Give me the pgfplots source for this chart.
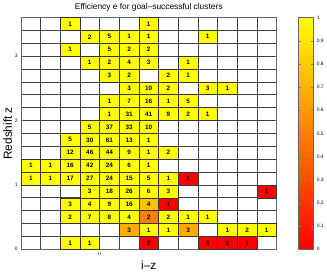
\documentclass[border=0pt]{standalone}
\usepackage{pgfplots}
\pgfplotsset{compat=1.18}
\usepackage{pgfplotstable}
\usepackage{fontspec}
\setmainfont{Liberation Sans}
\pgfdeclareplotmark{cell}{%
  \pgfpathrectangle{\pgfpoint{-10pt}{-6.55pt}}{\pgfpoint{20pt}{13.1pt}}%
  \pgfusepathqfillstroke}
\pgfplotstableread{
x y n e
-1.5 17.5 1 1
2.5 17.5 1 1
-0.5 16.5 2 1
0.5 16.5 5 1
1.5 16.5 1 1
2.5 16.5 1 1
5.5 16.5 1 1
-1.5 15.5 1 1
0.5 15.5 5 1
1.5 15.5 2 1
2.5 15.5 2 1
-0.5 14.5 1 1
0.5 14.5 2 1
1.5 14.5 4 1
2.5 14.5 3 1
4.5 14.5 1 1
0.5 13.5 3 1
1.5 13.5 2 1
3.5 13.5 2 1
4.5 13.5 1 1
1.5 12.5 3 1
2.5 12.5 10 1
3.5 12.5 2 1
5.5 12.5 3 1
6.5 12.5 1 1
0.5 11.5 1 1
1.5 11.5 7 1
2.5 11.5 16 1
3.5 11.5 1 1
4.5 11.5 5 1
0.5 10.5 1 1
1.5 10.5 31 1
2.5 10.5 41 1
3.5 10.5 9 1
4.5 10.5 2 1
5.5 10.5 1 1
-0.5 9.5 5 1
0.5 9.5 37 1
1.5 9.5 33 1
2.5 9.5 10 1
-1.5 8.5 5 1
-0.5 8.5 30 1
0.5 8.5 61 1
1.5 8.5 13 1
2.5 8.5 1 1
-1.5 7.5 12 1
-0.5 7.5 46 1
0.5 7.5 44 1
1.5 7.5 9 1
2.5 7.5 1 1
3.5 7.5 2 1
-3.5 6.5 1 1
-2.5 6.5 1 1
-1.5 6.5 16 1
-0.5 6.5 42 1
0.5 6.5 24 1
1.5 6.5 6 1
2.5 6.5 1 1
-3.5 5.5 1 1
-2.5 5.5 1 1
-1.5 5.5 17 1
-0.5 5.5 27 1
0.5 5.5 24 1
1.5 5.5 15 1
2.5 5.5 5 1
3.5 5.5 1 1
4.5 5.5 1 0
-0.5 4.5 3 1
0.5 4.5 18 1
1.5 4.5 26 1
2.5 4.5 6 1
3.5 4.5 3 1
8.5 4.5 1 0
-1.5 3.5 3 1
-0.5 3.5 4 1
0.5 3.5 9 1
1.5 3.5 16 1
2.5 3.5 4 0.75
3.5 3.5 1 0
-1.5 2.5 2 1
-0.5 2.5 7 1
0.5 2.5 8 1
1.5 2.5 4 1
2.5 2.5 2 0.5
3.5 2.5 2 1
4.5 2.5 1 1
5.5 2.5 1 1
1.5 1.5 3 0.667
2.5 1.5 1 1
3.5 1.5 1 1
4.5 1.5 3 0.667
6.5 1.5 1 1
7.5 1.5 2 1
8.5 1.5 1 1
-1.5 0.5 1 1
-0.5 0.5 1 1
2.5 0.5 2 0
5.5 0.5 3 0
6.5 0.5 2 0
7.5 0.5 1 0
}\cells
\begin{document}
\begin{tikzpicture}
\begin{axis}[
  scale only axis,
  width=260pt, height=235.8pt,
  xmin=-4, xmax=9, ymin=0, ymax=18,
  xtick={0}, ytick={0,5,10,15}, yticklabels={0,1,2,3},
  minor xtick={-4,...,9}, minor ytick={0,...,18},
  grid=both,
  grid style={draw=black!75, line width=0.7pt},
  minor grid style={draw=black!75, line width=0.7pt},
  major tick length=2pt, minor tick length=0pt,
  tick align=inside,
  tick label style={font=\fontsize{5}{6}\selectfont},
  axis line style={draw=black!60, line width=0.7pt},
  title={Efficiency e for goal\textendash successful clusters},
  title style={font=\fontsize{8.5}{10}\selectfont, yshift=-3pt},
  xlabel={i\textendash z}, ylabel={Redshift z},
  label style={font=\fontsize{12}{14}\selectfont},
  xlabel style={yshift=2pt},
  ylabel style={yshift=-4pt},
  colormap={autumn}{rgb=(1,0,0) rgb=(1,1,0)},
  point meta min=0, point meta max=1,
  colorbar,
  colorbar style={
    at={(parent axis.north east)}, anchor=north west, xshift=14pt,
    width=15pt,
    ytick={0,0.1,...,1},
    yticklabel pos=right,
    tick align=inside,
    major tick length=2pt,
    yticklabel style={font=\fontsize{5}{6}\selectfont, /pgf/number format/fixed, /pgf/number format/assume math mode=true},
    axis line style={draw=black!60},
  },
]
\addplot[scatter, only marks, mark=cell, line width=0.5pt,
  scatter src=explicit,
  scatter/use mapped color={draw=black!80, fill=mapped color},
] table[x=x, y=y, meta=e] {\cells};
\addplot[only marks, mark=none,
  point meta=explicit symbolic,
  nodes near coords,
  nodes near coords align=center,
  every node near coord/.append style={font=\bfseries\fontsize{6.5}{7}\selectfont, text=black, anchor=center, inner sep=0pt},
] table[x=x, y=y, meta=n] {\cells};
\end{axis}
\end{tikzpicture}
\end{document}
